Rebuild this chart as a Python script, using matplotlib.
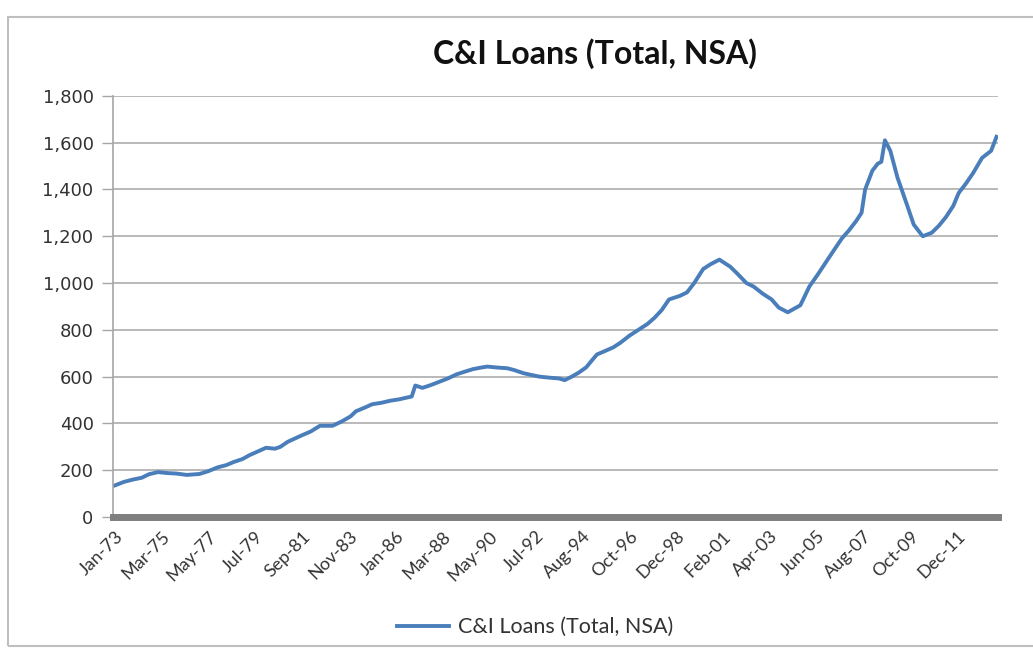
import numpy as np
import matplotlib.pyplot as plt
from matplotlib.patches import Rectangle

# C&I loans outstanding, $bn (month, value)
dates = ['1973-01', '1973-06', '1973-11', '1974-04', '1974-08', '1975-01',
         '1975-06', '1975-11', '1976-05', '1976-12', '1977-05', '1977-10',
         '1978-03', '1978-07', '1978-12', '1979-04', '1979-09', '1980-01',
         '1980-06', '1980-09', '1981-01', '1981-08', '1982-02', '1982-07',
         '1983-02', '1983-07', '1983-12', '1984-03', '1984-08', '1984-12',
         '1985-05', '1985-10', '1986-03', '1986-07', '1986-10', '1986-12',
         '1987-04', '1987-09', '1988-02', '1988-06', '1988-11', '1989-03',
         '1989-08', '1989-12', '1990-04', '1990-08', '1990-11', '1991-03',
         '1991-07', '1991-12', '1992-04', '1992-09', '1993-02', '1993-08',
         '1993-11', '1994-03', '1994-07', '1994-11', '1995-02', '1995-05',
         '1995-09', '1996-02', '1996-06', '1996-11', '1997-04', '1997-09',
         '1998-01', '1998-05', '1998-09', '1999-03', '1999-07', '1999-11',
         '2000-04', '2000-08', '2001-01', '2001-07', '2001-11', '2002-04',
         '2002-08', '2003-01', '2003-06', '2003-10', '2004-03', '2004-10',
         '2005-03', '2005-08', '2006-02', '2006-09', '2007-01', '2007-05',
         '2007-08', '2007-10', '2008-02', '2008-05', '2008-07', '2008-09',
         '2008-12', '2009-04', '2009-09', '2010-01', '2010-06', '2010-11',
         '2011-03', '2011-07', '2011-11', '2012-02', '2012-06', '2012-10',
         '2013-03', '2013-08', '2013-11']
loans = [135, 150, 160, 168, 183, 192,
         188, 186, 180, 184, 196, 212,
         222, 235, 248, 265, 282, 296,
         292, 300, 321, 346, 366, 390,
         390, 408, 430, 452, 468, 482,
         488, 497, 503, 510, 515, 562,
         552, 565, 580, 592, 610, 620,
         632, 638, 643, 640, 638, 636,
         628, 615, 608, 600, 596, 592,
         585, 600, 618, 640, 668, 695,
         708, 725, 745, 775, 800, 825,
         852, 885, 930, 945, 960, 1000,
         1060, 1080, 1100, 1070, 1040, 1000,
         985, 955, 930, 895, 875, 905,
         985, 1040, 1110, 1190, 1225, 1265,
         1300, 1400, 1480, 1510, 1518, 1610,
         1565, 1450, 1340, 1250, 1200, 1215,
         1245, 1283, 1330, 1385, 1425, 1470,
         1535, 1565, 1625]

tick_labels = ['Jan-73', 'Mar-75', 'May-77', 'Jul-79', 'Sep-81', 'Nov-83',
               'Jan-86', 'Mar-88', 'May-90', 'Jul-92', 'Aug-94', 'Oct-96',
               'Dec-98', 'Feb-01', 'Apr-03', 'Jun-05', 'Aug-07', 'Oct-09',
               'Dec-11']
tick_step = 26  # categories between labels

def month_index(s):
    y, m = s.split('-')
    return (int(y) - 1973) * 12 + int(m) - 1

x = np.array([month_index(d) for d in dates])
n_months = x[-1] + 1

fig = plt.figure(figsize=(10.33, 6.52), dpi=100)
fig.patches.append(Rectangle((0.0077, 0.009), 1.1, 0.965, transform=fig.transFigure,
                             fill=False, edgecolor='#bfbfbf', linewidth=1.5))

ax = fig.add_axes([0.1094, 0.207, 0.857, 0.646])
line, = ax.plot(x, loans, color='#4a7ebb', linewidth=2.8, solid_joinstyle='round',
                label='C&I Loans (Total, NSA)')

ax.set_ylim(0, 1800)
ax.set_xlim(-1, n_months)
ax.set_yticks(np.arange(0, 1801, 200))
ax.set_yticklabels([f'{v:,}' for v in range(0, 1801, 200)],
                   fontfamily='DejaVu Sans', fontsize=13, color='#333333')
ax.yaxis.grid(True, color='#b3b3b3', linewidth=1.3)
ax.set_axisbelow(True)
ax.tick_params(axis='y', length=8, width=1, color='#a6a6a6', pad=6)

ax.set_xticks([k * tick_step for k in range(len(tick_labels))])
ax.set_xticklabels(tick_labels, rotation=45, ha='right', rotation_mode='anchor',
                   fontfamily='Lato', fontsize=13, color='#333333')
ax.tick_params(axis='x', length=0, pad=8)

for side in ('top', 'right'):
    ax.spines[side].set_visible(False)
ax.spines['left'].set_color('#a6a6a6')
ax.spines['left'].set_linewidth(1.2)
ax.spines['bottom'].set_color('#7f7f7f')
ax.spines['bottom'].set_linewidth(5)

fig.text(0.5755, 0.918, 'C&I Loans (Total, NSA)', ha='center', va='center',
         fontfamily='Lato', fontweight='bold', fontsize=23, color='#111111')

fig.legend(handles=[line], loc='center', bbox_to_anchor=(0.518, 0.038),
           frameon=False, handlelength=2.4, handletextpad=0.4,
           prop={'family': 'Lato', 'size': 15.5})
for t in fig.legends[0].get_texts():
    t.set_color('#333333')

fig.savefig('out.png', dpi=100)
